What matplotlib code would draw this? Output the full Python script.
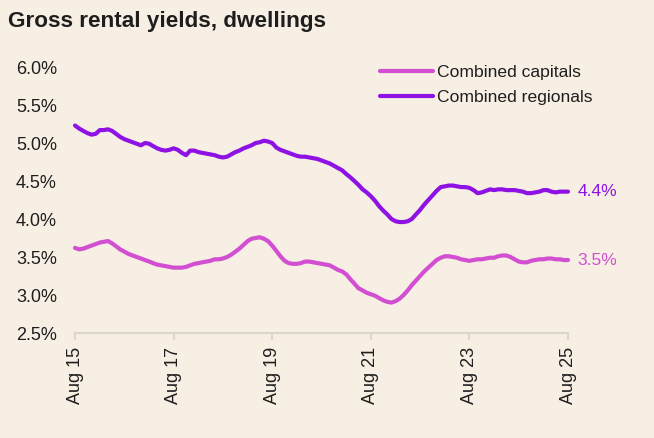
import matplotlib
matplotlib.use("Agg")
import matplotlib.pyplot as plt
import matplotlib.dates as mdates
import pandas as pd

plt.rcParams['font.family'] = ['Liberation Sans', 'DejaVu Sans']

# monthly, Aug 2015 .. Aug 2025
months = pd.date_range("2015-08-01", "2025-08-01", freq="MS")

capitals = [
    3.62, 3.60, 3.61, 3.63, 3.65, 3.67, 3.69, 3.70, 3.71, 3.68,
    3.64, 3.60, 3.57, 3.54, 3.52, 3.50, 3.48, 3.46, 3.44, 3.42,
    3.40, 3.39, 3.38, 3.37, 3.36, 3.36, 3.36, 3.37, 3.39, 3.41,
    3.42, 3.43, 3.44, 3.45, 3.47, 3.47, 3.48, 3.50, 3.53, 3.57,
    3.61, 3.66, 3.71, 3.74, 3.75, 3.76, 3.74, 3.71, 3.65, 3.58,
    3.51, 3.45, 3.42, 3.41, 3.41, 3.42, 3.44, 3.44, 3.43, 3.42,
    3.41, 3.40, 3.39, 3.36, 3.33, 3.31, 3.27, 3.21, 3.15, 3.09,
    3.06, 3.03, 3.01, 2.99, 2.96, 2.93, 2.91, 2.90, 2.92, 2.95,
    3.00, 3.06, 3.13, 3.19, 3.25, 3.31, 3.36, 3.41, 3.46, 3.49,
    3.51, 3.51, 3.50, 3.49, 3.47, 3.46, 3.45, 3.46, 3.47, 3.47,
    3.48, 3.49, 3.49, 3.51, 3.52, 3.52, 3.50, 3.47, 3.44, 3.43,
    3.43, 3.45, 3.46, 3.47, 3.47, 3.48, 3.48, 3.47, 3.47, 3.46,
    3.46,
]

regionals = [
    5.23, 5.19, 5.16, 5.13, 5.11, 5.12, 5.17, 5.17, 5.18, 5.16,
    5.12, 5.08, 5.05, 5.03, 5.01, 4.99, 4.97, 5.00, 4.99, 4.96,
    4.93, 4.91, 4.90, 4.91, 4.93, 4.91, 4.87, 4.84, 4.90, 4.90,
    4.88, 4.87, 4.86, 4.85, 4.84, 4.82, 4.81, 4.82, 4.85, 4.88,
    4.90, 4.93, 4.95, 4.97, 5.00, 5.01, 5.03, 5.02, 5.00, 4.94,
    4.91, 4.89, 4.87, 4.85, 4.83, 4.82, 4.82, 4.81, 4.80, 4.79,
    4.77, 4.75, 4.73, 4.70, 4.67, 4.64, 4.59, 4.55, 4.50, 4.45,
    4.39, 4.35, 4.30, 4.24, 4.17, 4.11, 4.06, 4.00, 3.97, 3.96,
    3.96, 3.97, 4.00, 4.06, 4.12, 4.19, 4.25, 4.31, 4.37, 4.42,
    4.43, 4.44, 4.44, 4.43, 4.42, 4.42, 4.41, 4.38, 4.34, 4.35,
    4.37, 4.39, 4.38, 4.39, 4.39, 4.38, 4.38, 4.38, 4.37, 4.36,
    4.34, 4.34, 4.35, 4.36, 4.38, 4.38, 4.36, 4.35, 4.36, 4.36,
    4.36,
]

series_names = ["Combined capitals", "Combined regionals"]
end_labels = ["3.5%", "4.4%"]
y_ticks = [2.5, 3.0, 3.5, 4.0, 4.5, 5.0, 5.5, 6.0]
x_tick_years = [2015, 2017, 2019, 2021, 2023, 2025]

bg = "#f7efe3"
col_cap = "#d24fd2"
col_reg = "#8e12e4"
ink = "#1e1e1e"

W, H = 654, 438
fig = plt.figure(figsize=(W / 100, H / 100), dpi=100, facecolor=bg)
ax = fig.add_axes([75 / W, 1 - 333 / H, (568 - 75) / W, (333 - 67) / H])
ax.set_facecolor(bg)

ax.plot(months, capitals, color=col_cap, lw=3.0, solid_capstyle='round',
        label=series_names[0], clip_on=False, zorder=3)
ax.plot(months, regionals, color=col_reg, lw=3.0, solid_capstyle='round',
        label=series_names[1], clip_on=False, zorder=3)

ax.set_xlim(months[0], months[-1])
ax.set_ylim(2.5, 6.0)

# end-of-line value labels
ax.annotate(end_labels[0], (months[-1], capitals[-1]), xytext=(7, 0),
            textcoords='offset points', va='center', ha='left',
            color=col_cap, fontsize=12.5)
ax.annotate(end_labels[1], (months[-1], regionals[-1]), xytext=(7, 0),
            textcoords='offset points', va='center', ha='left',
            color=col_reg, fontsize=12.5)

ax.set_yticks(y_ticks)
ax.set_yticklabels([f"{v:.1f}%" for v in y_ticks])
ax.tick_params(axis='y', length=0, pad=13, labelsize=13, labelcolor=ink)

xt = [pd.Timestamp(f"{y}-08-01") for y in x_tick_years]
ax.set_xticks(xt)
ax.xaxis.set_major_formatter(mdates.DateFormatter("Aug %y"))
ax.tick_params(axis='x', length=5, width=1.5, color="#dcd6cc", pad=5,
               labelsize=13, labelcolor=ink, labelrotation=90)

for side in ['top', 'right', 'left']:
    ax.spines[side].set_visible(False)
ax.spines['bottom'].set_color("#dcd6cc")
ax.spines['bottom'].set_linewidth(1.5)

fig.text(8 / W, 1 - 22 / H, "Gross rental yields, dwellings", fontsize=16.2,
         fontweight='bold', color=ink, va='center', ha='left')

fig.legend(loc='upper left', bbox_to_anchor=(380 / W, 1 - 65 / H),
           frameon=False, fontsize=12.6, handlelength=3.0, handletextpad=0.25,
           labelspacing=0.55, borderpad=0, borderaxespad=0, labelcolor=ink)

fig.savefig("out.png", dpi=100, facecolor=bg)
